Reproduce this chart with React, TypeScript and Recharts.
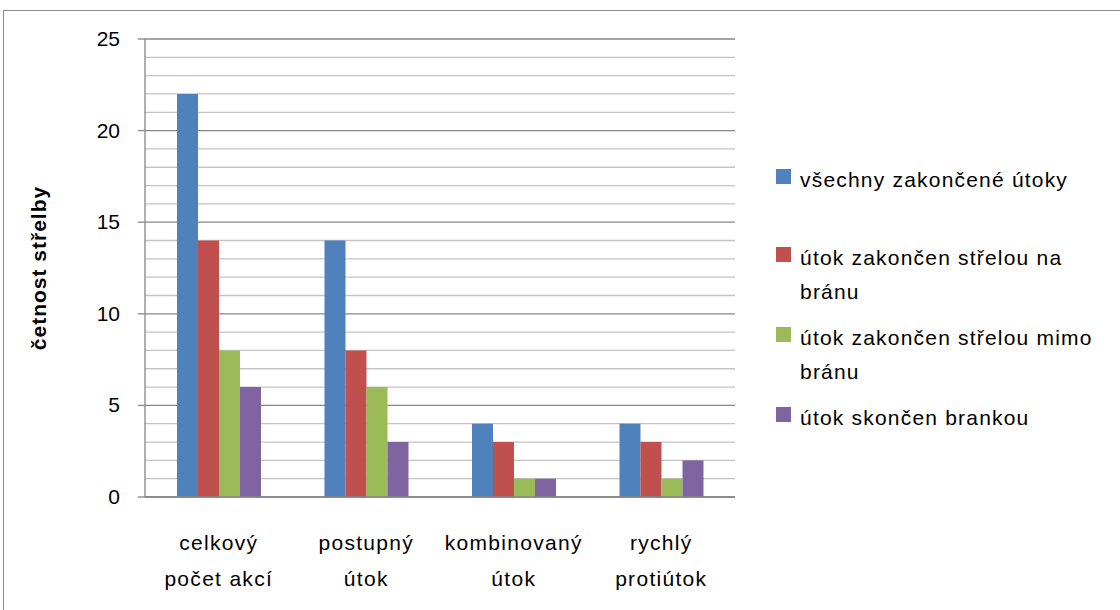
import { BarChart, Bar, XAxis, YAxis, CartesianGrid } from 'recharts'

const categories = [
  ['celkový', 'počet akcí'],
  ['postupný', 'útok'],
  ['kombinovaný', 'útok'],
  ['rychlý', 'protiútok'],
]

const allAttacks = [22, 14, 4, 4]
const onTarget = [14, 8, 3, 3]
const offTarget = [8, 6, 1, 1]
const goals = [6, 3, 1, 2]

// every integer gets a gridline, every 5th is a major one with a label
const yTicks = [0, 1, 2, 3, 4, 5, 6, 7, 8, 9, 10, 11, 12, 13, 14, 15, 16, 17, 18, 19, 20, 21, 22, 23, 24, 25]

const series = [
  { key: 'all', name: 'všechny zakončené útoky', color: '#4F81BD', values: allAttacks },
  { key: 'on', name: 'útok zakončen střelou na bránu', color: '#C0504D', values: onTarget },
  { key: 'off', name: 'útok zakončen střelou mimo bránu', color: '#9BBB59', values: offTarget },
  { key: 'goal', name: 'útok skončen brankou', color: '#8064A2', values: goals },
]

const data = categories.map((c, i) => {
  const row: any = { name: c.join(' ') }
  series.forEach((s) => (row[s.key] = s.values[i]))
  return row
})

const FONT = '"Liberation Sans", Arial, sans-serif'
const GRID_MAJOR = '#868686'
const GRID_MINOR = '#c4c4c4'

const CategoryTick = ({ x, y, payload }: any) => {
  const lines = categories[payload.index] || [payload.value]
  return (
    <text x={x} y={y} textAnchor="middle" fontFamily={FONT} fontSize={21} letterSpacing={1.3} fill="#000">
      {lines.map((l, i) => (
        <tspan key={i} x={x} dy={i === 0 ? 45 : 36}>
          {l}
        </tspan>
      ))}
    </text>
  )
}

const ValueTick = ({ x, y, payload }: any) => {
  if (payload.value % 5 !== 0) return null
  return (
    <g>
      <line x1={x + 18} x2={x + 25} y1={y} y2={y} stroke={GRID_MAJOR} strokeWidth={1.3} />
      <text x={x} y={y} dy={7} textAnchor="end" fontFamily={FONT} fontSize={21} fill="#000">
        {payload.value}
      </text>
    </g>
  )
}

const GridLine = (props: any) => {
  const major = props.index % 5 === 0
  return (
    <line
      x1={props.x1}
      x2={props.x2}
      y1={props.y1}
      y2={props.y2}
      stroke={major ? GRID_MAJOR : GRID_MINOR}
      strokeWidth={1.3}
    />
  )
}

const itemHeights = [78, 80, 80, 34]

const Legend = () => (
  <div style={{ position: 'absolute', left: 776, top: 163, width: 336, fontFamily: FONT, fontSize: 21, letterSpacing: 1.2 }}>
    {series.map((s, i) => (
      <div key={s.key} style={{ position: 'relative', height: itemHeights[i], paddingLeft: 24, lineHeight: '34px' }}>
        <div style={{ position: 'absolute', left: 0, top: 6, width: 15, height: 15, background: s.color }} />
        <div>{s.name}</div>
      </div>
    ))}
  </div>
)

export default function App() {
  return (
    <div style={{ position: 'absolute', left: 0, top: 0, width: 1120, height: 610, overflow: 'hidden', background: '#fff' }}>
      <div style={{ position: 'absolute', left: 3, top: 10, width: 1200, height: 700, border: '1px solid #8c8c8c' }} />
      <BarChart
        width={1120}
        height={610}
        data={data}
        margin={{ top: 39, right: 385, bottom: 0, left: 0 }}
        barCategoryGap={32}
        barGap={0}
        style={{ position: 'absolute', left: 0, top: 0 }}
      >
        <CartesianGrid vertical={false} horizontal={<GridLine />} />
        <YAxis
          width={145}
          domain={[0, 25]}
          ticks={yTicks}
          interval={0}
          tickLine={false}
          tickSize={7}
          axisLine={{ stroke: GRID_MAJOR, strokeWidth: 1.3 }}
          tick={<ValueTick />}
          tickMargin={18}
          label={{
            content: ({ viewBox }: any) => (
              <text
                x={40}
                y={viewBox.y + viewBox.height / 2}
                transform={`rotate(-90 40 ${viewBox.y + viewBox.height / 2})`}
                textAnchor="middle"
                dominantBaseline="middle"
                fontFamily={FONT}
                fontSize={21}
                letterSpacing={1}
                fontWeight="bold"
                fill="#000"
              >
                četnost střelby
              </text>
            ),
          }}
        />
        <XAxis
          dataKey="name"
          axisLine={{ stroke: GRID_MAJOR, strokeWidth: 1.3 }}
          tickLine={false}
          tick={<CategoryTick />}
          interval={0}
          height={113}
        />
        {series.map((s) => (
          <Bar key={s.key} dataKey={s.key} name={s.name} fill={s.color} isAnimationActive={false} />
        ))}
      </BarChart>
      <Legend />
    </div>
  )
}
